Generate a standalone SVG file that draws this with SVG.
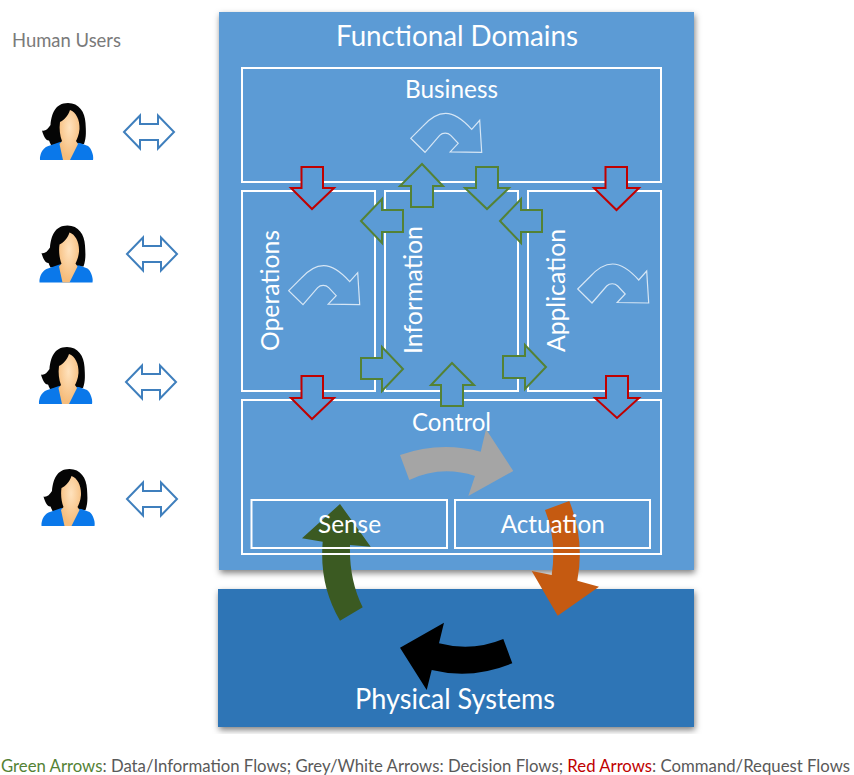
<svg xmlns="http://www.w3.org/2000/svg" width="854" height="775" viewBox="0 0 854 775">
<style>
text{font-family:"Lato","Carlito","Open Sans",sans-serif;fill:#fff}
.box{fill:none;stroke:#fff;stroke-width:2}
.red{fill:#5b9bd5;stroke:#c00000;stroke-width:2}
.grn{fill:#5b9bd5;stroke:#548235;stroke-width:2}
.dbl{fill:#fff;stroke:#3f7fbd;stroke-width:2}
.cur{fill:none;stroke:#fff;stroke-opacity:.75;stroke-width:1.2}
</style>
<defs>
<filter id="sh" x="-5%" y="-5%" width="110%" height="110%"><feDropShadow dx="1" dy="3" stdDeviation="3" flood-color="#000" flood-opacity=".5"/></filter>
<radialGradient id="skin" cx=".5" cy=".35" r=".6"><stop offset="0" stop-color="#ffe2bd"/><stop offset="1" stop-color="#f6bd7c"/></radialGradient>
<g id="person">
<path d="M28,0C39,0 45,9 45.500,20C46,28 46.500,34 44,41L11,42C10,40 9.500,38.500 9,37.500C6,38 3.500,33 2,27.500C5,28.500 8,26 10.500,22C11.500,11 15,0 28,0Z" fill="#050505"/>
<path d="M0,57C-.5,52 2,46 7,43.500L20,39L40,40L48,43C51,45 54,52 53,57Z" fill="#0a78ea"/>
<path d="M30,7C36,9 40,17 39.500,26C39,32 37,36 36,38L38,41L30,57L23,57L19.500,41L22,38C20,33 19,26 20,19C24,17 28,13 30,7Z" fill="url(#skin)"/>
</g>
<path id="curve" class="cur" d="M0,0L12,-12C20,-21 28,-25 35,-25C44,-25 52,-19 61,-9L69,-18L71,14L39.500,13.500L47.500,5L40,-3C37,-6 32,-6 29,-3L14.300,14Z"/>
<polygon id="dbl" class="dbl" points="0,0 16,-16.500 16,-8 34,-8 34,-16.500 50,0 34,16.500 34,8 16,8 16,16.500"/>
</defs>

<g id="human-users">
<text x="12" y="47" font-size="18.500" textLength="109" lengthAdjust="spacingAndGlyphs" style="fill:#7a7a7a">Human Users</text>
<use id="user-1" href="#person" x="40" y="103"/>
<use id="user-2" href="#person" x="39.500" y="225.500"/>
<use id="user-3" href="#person" x="39" y="347"/>
<use id="user-4" href="#person" x="41.500" y="469"/>
</g>

<rect id="functional-domains" x="219" y="12" width="475" height="558" fill="#5b9bd5" filter="url(#sh)"/>
<rect id="physical-systems" x="218" y="589" width="476" height="138" fill="#2e75b6" filter="url(#sh)"/>

<g id="flow-arrows">
<path fill="#a5a5a5" d="M400,455Q440,441 480.700,451.700L486,429.300L513.300,471L468.300,496L475,476Q441,465 409.300,480Z"/>
<path fill="#3b5a22" d="M340,504L370.700,546.700L350,545Q349,580 362.700,607.300L340,620.700Q319,585 322.700,541.700L302,538.300Z"/>
<path fill="#c55a11" d="M545,510L569.300,501Q585,540 577.300,580.700L599,586.700L557.700,615.700L531.700,571L551.700,575Q557,540 545,510Z"/>
<path fill="#000" d="M400,647.700L444,622.700L439,643.300Q472,652 503.300,639L512.300,663.300Q472,680 431.700,670L426.700,690Z"/>
</g>

<g id="business"><rect class="box" x="242" y="68" width="419" height="114"/><text x="405" y="98" font-size="25" textLength="93" lengthAdjust="spacingAndGlyphs">Business</text><use href="#curve" x="410.700" y="138.300"/></g>
<g id="operations"><rect class="box" x="242" y="191" width="133" height="200"/><text transform="translate(279 351) rotate(-90)" font-size="25" textLength="121" lengthAdjust="spacingAndGlyphs">Operations</text><use href="#curve" x="288.700" y="290.700"/></g>
<g id="information"><rect class="box" x="385" y="191" width="133" height="200"/><text transform="translate(421.700 354) rotate(-90)" font-size="25" textLength="128" lengthAdjust="spacingAndGlyphs">Information</text></g>
<g id="application"><rect class="box" x="528" y="191" width="133" height="200"/><text transform="translate(565 352) rotate(-90)" font-size="25" textLength="123" lengthAdjust="spacingAndGlyphs">Application</text><use href="#curve" x="577.700" y="289"/></g>
<g id="control"><rect class="box" x="242" y="400" width="419" height="154"/><text x="412" y="431" font-size="25" textLength="79" lengthAdjust="spacingAndGlyphs">Control</text></g>
<g id="sense"><rect class="box" x="251.500" y="500" width="195.500" height="48"/><text x="318" y="533" font-size="25" textLength="63" lengthAdjust="spacingAndGlyphs">Sense</text></g>
<g id="actuation"><rect class="box" x="455" y="500" width="195" height="48"/><text x="500.700" y="533" font-size="25" textLength="104" lengthAdjust="spacingAndGlyphs">Actuation</text></g>

<g id="titles">
<text x="336" y="46" font-size="28" textLength="242" lengthAdjust="spacingAndGlyphs">Functional Domains</text>
<text x="355" y="709" font-size="28" textLength="200" lengthAdjust="spacingAndGlyphs">Physical Systems</text>
</g>

<g id="connectors">
<use href="#dbl" x="124" y="132"/>
<use href="#dbl" x="127" y="254"/>
<use href="#dbl" x="126" y="382"/>
<use href="#dbl" x="127" y="499"/>
<polygon class="red" points="301.500,167 323,167 323,188 334,188 312,209 291,188 301.500,188"/>
<polygon class="red" points="605.500,167 627,167 627,188 639,188 616.500,210 594,188 605.500,188"/>
<polygon class="red" points="301.500,376 323,376 323,398 334,398 312,419 291,398 301.500,398"/>
<polygon class="red" points="606,376 628,376 628,398 639,398 617,418 595,398 606,398"/>
<polygon class="grn" points="422,164 443,186 433,186 433,207 411,207 411,186 400,186"/>
<polygon class="grn" points="476,167 498,167 498,188 509,188 487,209 465,188 476,188"/>
<polygon class="grn" points="361,221 382,199 382,210 403,210 403,232 382,232 382,243"/>
<polygon class="grn" points="500,221 521,199 521,210 542,210 542,232 521,232 521,243"/>
<polygon class="grn" points="361,358 382,358 382,347 403,369 382,391 382,379 361,379"/>
<polygon class="grn" points="503,356 525,356 525,345 546,367 525,389 525,378 503,378"/>
<polygon class="grn" points="452,363 474,385 463,385 463,406 441,406 441,385 431,385"/>
</g>

<text id="legend" x="1" y="772" font-size="16.500" textLength="849" lengthAdjust="spacingAndGlyphs" style="fill:#595959"><tspan style="fill:#548235">Green Arrows</tspan>: Data/Information Flows; Grey/White Arrows: Decision Flows; <tspan style="fill:#c00000">Red Arrows</tspan>: Command/Request Flows</text>
</svg>
